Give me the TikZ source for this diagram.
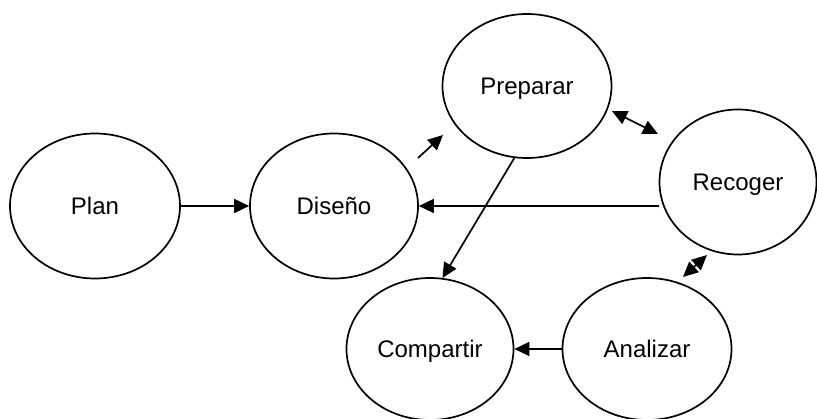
\documentclass[tikz,border=0pt]{standalone}
\usepackage{fontspec}
\setmainfont{Liberation Sans}
\usetikzlibrary{shapes.geometric,arrows.meta}
\begin{document}
\begin{tikzpicture}[x=1pt,y=-1pt,
  stage/.style={ellipse,draw,line width=1.7pt,inner sep=0pt,
    font=\fontsize{24}{28}\selectfont,text height=17pt,text depth=0pt},
  link/.style={line width=1.7pt,-{Triangle[length=15pt,width=14pt]}},
  twoway/.style={line width=1.7pt,{Triangle[length=15pt,width=14pt]}-{Triangle[length=15pt,width=14pt]}}]
\useasboundingbox (0,0) rectangle (817,419);
% the six stages of the cycle
\node[stage,minimum width=170pt,minimum height=145pt] (plan) at (95,206) {Plan};
\node[stage,minimum width=168pt,minimum height=145pt] (diseno) at (334,206) {Diseño};
\node[stage,minimum width=169pt,minimum height=144pt] (preparar) at (527,86) {Preparar};
\node[stage,minimum width=157pt,minimum height=145pt] (recoger) at (738,182) {Recoger};
\node[stage,minimum width=167pt,minimum height=142pt] (compartir) at (430,349) {Compartir};
\node[stage,minimum width=169pt,minimum height=142pt] (analizar) at (647,349) {Analizar};
% free ends of the short arrows
\coordinate (dA) at (418,158);
\coordinate (dB) at (443,135);
\coordinate (pA) at (612,111);
\coordinate (pB) at (658,134);
\coordinate (rA) at (707,255);
\coordinate (rB) at (683,277);
% connectors
\draw[link] (plan.east) -- (diseno.west);
\draw[link] (dA) -- (dB);
\draw[twoway] (pA) -- (pB);
\draw[link] (recoger.west |- diseno.east) -- (diseno.east);
\draw[link] (preparar.260) -- (compartir.80);
\draw[twoway] (rA) -- (rB);
\draw[link] (analizar.west) -- (compartir.east);
\end{tikzpicture}
\end{document}
